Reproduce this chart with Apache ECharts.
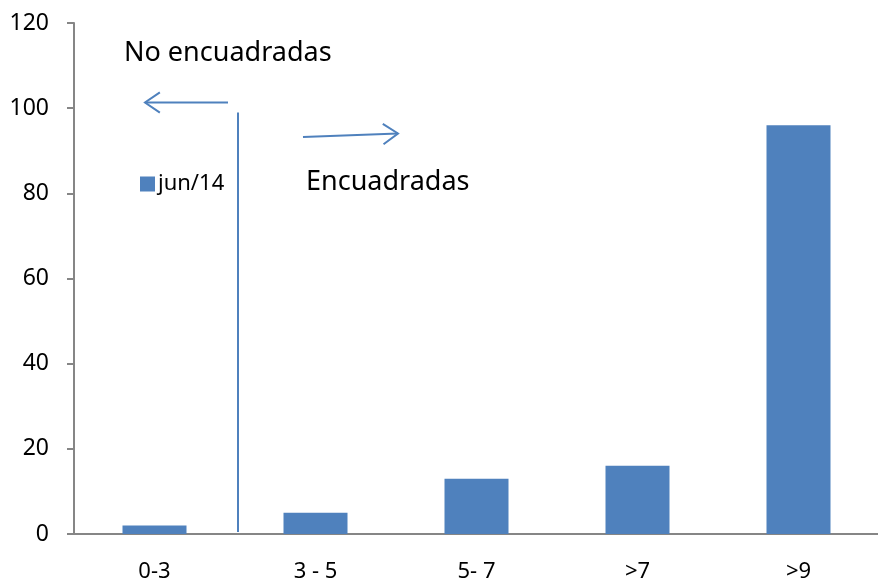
<!DOCTYPE html>
<html>
<head>
<meta charset="utf-8">
<script src="https://cdn.jsdelivr.net/npm/echarts@6/dist/echarts.min.js"></script>
<style>
  html, body { margin: 0; padding: 0; background: #fff; }
  #chart { width: 878px; height: 578px; }
</style>
</head>
<body>
<div id="chart"></div>
<script>
// Score bands and counts for June 2014
const categories = ['0-3', '3 - 5', '5- 7', '>7', '>9'];
const seriesName = 'jun/14';
const values = [2, 5, 13, 16, 96];
const yTicks = [0, 20, 40, 60, 80, 100, 120];

const FONT = 'Noto Sans';
const BLUE = '#4F81BD';
const AXIS = '#868686';

const chart = echarts.init(document.getElementById('chart'), null, { renderer: 'canvas' });

// Open "V" arrow head + shaft as a single graphic group
function arrow(x1, y1, x2, y2, head) {
  const ang = Math.atan2(y2 - y1, x2 - x1);
  const spread = 0.6;
  const a1 = [x2 - head * Math.cos(ang - spread), y2 - head * Math.sin(ang - spread)];
  const a2 = [x2 - head * Math.cos(ang + spread), y2 - head * Math.sin(ang + spread)];
  return {
    type: 'group',
    children: [
      { type: 'line', shape: { x1: x1, y1: y1, x2: x2, y2: y2 }, style: { stroke: BLUE, lineWidth: 2 } },
      { type: 'polyline', shape: { points: [a1, [x2, y2], a2] }, style: { stroke: BLUE, lineWidth: 2, fill: null } }
    ]
  };
}

chart.setOption({
  animation: false,
  backgroundColor: '#fff',
  textStyle: { fontFamily: FONT },
  grid: { left: 74, right: -1, top: 23, bottom: 44, containLabel: false, outerBoundsMode: 'none' },
  legend: {
    data: [seriesName],
    left: 135, top: 168,
    icon: 'rect', itemWidth: 15, itemHeight: 15, itemGap: 6,
    textStyle: { fontFamily: FONT, fontSize: 22, color: '#000', padding: [0, 0, 0, -2] }
  },
  xAxis: {
    type: 'category',
    data: categories,
    axisLine: { lineStyle: { color: AXIS, width: 2 } },
    axisTick: { alignWithLabel: false, length: 8, lineStyle: { color: AXIS, width: 2 } },
    axisLabel: { color: '#000', fontFamily: FONT, fontSize: 22, margin: 27 }
  },
  yAxis: {
    type: 'value',
    min: yTicks[0], max: yTicks[yTicks.length - 1], interval: yTicks[1] - yTicks[0],
    axisLine: { show: true, lineStyle: { color: AXIS, width: 2 } },
    axisTick: { show: true, length: 7, lineStyle: { color: AXIS, width: 2 } },
    splitLine: { show: false },
    axisLabel: { color: '#000', fontFamily: FONT, fontSize: 23, margin: 25, padding: [3, 0, 0, 0] }
  },
  series: [{
    name: seriesName,
    type: 'bar',
    data: values,
    barWidth: 64,
    itemStyle: { color: BLUE }
  }]
});

// Divider between the first band and the rest, placed at the band boundary
const x0 = chart.convertToPixel({ xAxisIndex: 0 }, 0);
const x1 = chart.convertToPixel({ xAxisIndex: 0 }, 1);
const divX = (x0 + x1) / 2 + 3;
const divTop = chart.convertToPixel({ yAxisIndex: 0 }, 99);
const divBottom = chart.convertToPixel({ yAxisIndex: 0 }, 0) - 2;

chart.setOption({
  graphic: [
    { type: 'line', shape: { x1: divX, y1: divTop, x2: divX, y2: divBottom }, style: { stroke: BLUE, lineWidth: 2 } },
    arrow(228, 102.5, 145, 102.5, 18),
    arrow(303, 137, 398, 133.5, 18),
    { type: 'text', left: 124, top: 40, style: { text: 'No encuadradas', font: '27px "Noto Sans"', fill: '#000' } },
    { type: 'text', left: 306, top: 169, style: { text: 'Encuadradas', font: '27px "Noto Sans"', fill: '#000' } }
  ]
});
</script>
</body>
</html>
